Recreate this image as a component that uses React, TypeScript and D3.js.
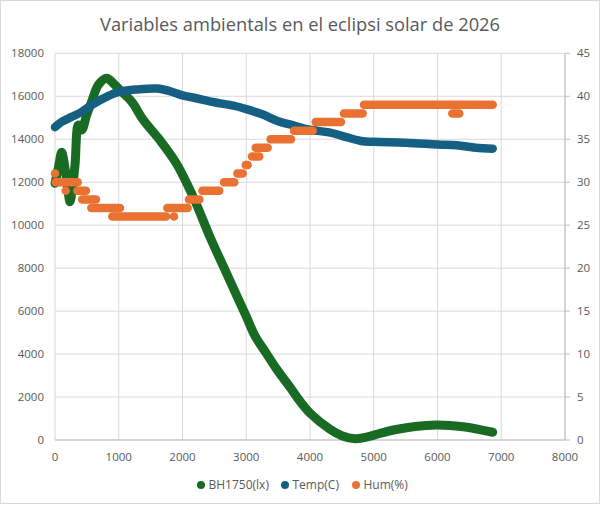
import * as d3 from "d3";

// BH1750 illuminance (lx), left axis
const luxTime = [0, 55, 105, 157, 200, 235, 275, 314, 366, 418, 497, 575, 680, 811, 915, 1050, 1203, 1385, 1647, 1909, 2170, 2431, 2700, 3000, 3137, 3300, 3477, 3700, 3843, 4000, 4314, 4500, 4700, 4900, 5098, 5350, 5621, 5987, 6405, 6866];
const luxValue = [11950, 12700, 13390, 12650, 11700, 11090, 11800, 12800, 14660, 14430, 15130, 15750, 16530, 16840, 16600, 16200, 15750, 14900, 13950, 12850, 11300, 9450, 7700, 5750, 4850, 4100, 3300, 2400, 1800, 1250, 500, 200, 60, 150, 310, 490, 620, 700, 620, 360];

// Temperature (C), right axis
const tempTime = [0, 100, 260, 400, 600, 800, 1000, 1300, 1600, 1800, 2000, 2200, 2500, 2800, 3000, 3250, 3500, 3750, 4000, 4300, 4500, 4800, 5000, 5500, 6000, 6300, 6600, 6866];
const tempValue = [36.4, 37.0, 37.6, 38.1, 39.1, 39.9, 40.5, 40.8, 40.9, 40.6, 40.1, 39.8, 39.3, 38.9, 38.5, 37.9, 37.1, 36.6, 36.1, 35.8, 35.4, 34.8, 34.7, 34.6, 34.4, 34.3, 34.0, 33.9];

// Humidity (%), right axis: runs of equal readings
const humStart = [0, 10, 168, 350, 428, 570, 899, 1867, 1762, 2102, 2311, 2651, 2860, 2991, 3090, 3148, 3383, 3749, 4089, 4533, 4847, 6232];
const humEnd = [0, 356, 168, 486, 643, 1020, 1741, 1867, 2081, 2264, 2577, 2813, 2944, 3022, 3205, 3336, 3702, 4042, 4486, 4826, 6866, 6342];
const humValue = [31, 30, 29, 29, 28, 27, 26, 26, 27, 28, 29, 30, 31, 32, 33, 34, 35, 36, 37, 38, 39, 38];

const xTicks = [0, 1000, 2000, 3000, 4000, 5000, 6000, 7000, 8000];
const leftTicks = [0, 2000, 4000, 6000, 8000, 10000, 12000, 14000, 16000, 18000];
const rightTicks = [0, 5, 10, 15, 20, 25, 30, 35, 40, 45];

const legend = [
  { label: "BH1750(lx)", color: "#196B24" },
  { label: "Temp(C)", color: "#156082" },
  { label: "Hum(%)", color: "#E97132" },
];

const W = 600, H = 506;
const FONT = "'Open Sans', 'Liberation Sans', sans-serif";
const TXT = "#595959";

export default function App() {
  const x = d3.scaleLinear().domain([0, 8000]).range([55, 565]);
  const yL = d3.scaleLinear().domain([0, 18000]).range([440, 53.3]);
  const yR = d3.scaleLinear().domain([0, 45]).range([440, 53.3]);

  const luxLine = d3.line<number>()
    .x((_, i) => x(luxTime[i]))
    .y(d => yL(d))
    .curve(d3.curveCatmullRom);
  const tempLine = d3.line<number>()
    .x((_, i) => x(tempTime[i]))
    .y(d => yR(d))
    .curve(d3.curveCatmullRom);

  const legendX = [201, 285, 356];

  return (
    <svg width={W} height={H} style={{ position: "absolute", left: 0, top: 0, background: "#fff" }}
      fontFamily={FONT}>
      <rect x={0.5} y={0.5} width={W - 1} height={H - 3} fill="#fff" stroke="#D9D9D9" />
      <text x={300} y={31} textAnchor="middle" fontSize={18.3} fill={TXT}>
        Variables ambientals en el eclipsi solar de 2026
      </text>

      {/* grid */}
      {leftTicks.map(t => (
        <line key={"h" + t} x1={x(0)} x2={x(8000)} y1={yL(t)} y2={yL(t)} stroke="#D9D9D9" />
      ))}
      {xTicks.map(t => (
        <line key={"v" + t} x1={x(t)} x2={x(t)} y1={yL(0)} y2={yL(18000)} stroke="#D9D9D9" />
      ))}
      <line x1={x(0)} x2={x(8000)} y1={yL(0)} y2={yL(0)} stroke="#BFBFBF" />
      <line x1={x(8000)} x2={x(8000)} y1={yR(0)} y2={yR(45)} stroke="#BFBFBF" />
      {rightTicks.map(t => (
        <line key={"rt" + t} x1={x(8000)} x2={x(8000) + 5} y1={yR(t)} y2={yR(t)} stroke="#BFBFBF" />
      ))}

      {/* axis labels */}
      {leftTicks.map(t => (
        <text key={"lt" + t} x={44} y={yL(t) + 4} textAnchor="end" fontSize={11.5} fill={TXT}>{t}</text>
      ))}
      {rightTicks.map(t => (
        <text key={"rl" + t} x={577} y={yR(t) + 4} textAnchor="start" fontSize={11.5} fill={TXT}>{t}</text>
      ))}
      {xTicks.map(t => (
        <text key={"xl" + t} x={x(t)} y={461} textAnchor="middle" fontSize={11.5} fill={TXT}>{t}</text>
      ))}

      {/* series */}
      <path d={luxLine(luxValue) || ""} fill="none" stroke="#196B24" strokeWidth={9}
        strokeLinecap="round" strokeLinejoin="round" />
      <path d={tempLine(tempValue) || ""} fill="none" stroke="#156082" strokeWidth={8.5}
        strokeLinecap="round" strokeLinejoin="round" />
      {humValue.map((h, i) => (
        <line key={"hu" + i} x1={x(humStart[i])} x2={x(humEnd[i])} y1={yR(h)} y2={yR(h)}
          stroke="#E97132" strokeWidth={8.5} strokeLinecap="round" />
      ))}

      {/* legend */}
      {legend.map((l, i) => (
        <g key={l.label}>
          <circle cx={legendX[i]} cy={485} r={4} fill={l.color} />
          <text x={legendX[i] + 7.5} y={489} fontSize={12} fill={TXT}>{l.label}</text>
        </g>
      ))}
    </svg>
  );
}
